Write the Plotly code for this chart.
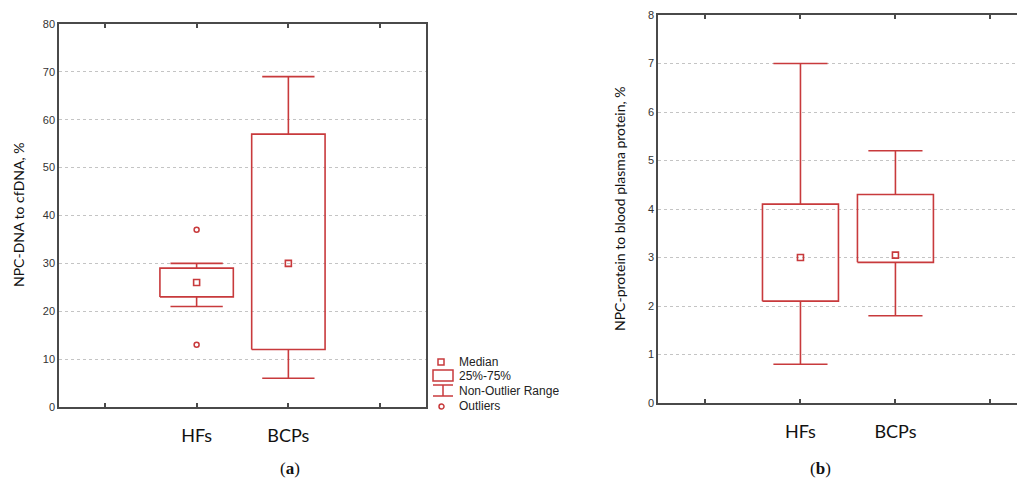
import plotly.graph_objects as go

# ---- data ----
groups = ["HFs", "BCPs"]
group_pos = [1, 2]

# panel (a): NPC-DNA to cfDNA, %
a_low = [21, 6]
a_q1 = [23, 12]
a_median = [26, 30]
a_q3 = [29, 57]
a_high = [30, 69]
a_outlier_x = ["HFs", "HFs"]
a_outlier_y = [37, 13]

# panel (b): NPC-protein to blood plasma protein, %
b_low = [0.8, 1.8]
b_q1 = [2.1, 2.9]
b_median = [3.0, 3.05]
b_q3 = [4.1, 4.3]
b_high = [7.0, 5.2]

RED = "#C83A3C"
AXC = "#4a4a4a"
BOX_HW = 0.4
CAP_HW = 0.285

# page body has an 8px margin: work in reference pixels and shift
OFF = 8
W = 1025 - 2 * OFF
H = 488 - 2 * OFF


def PX(px):
    return (px - OFF) / W


def PY(py):
    return (H - (py - OFF)) / H


fig = go.Figure()


def add_boxes(low, q1, med, q3, high, xa, ya):
    bx, by, wx, wy = [], [], [], []
    for p, lo, a, m, b, hi in zip(group_pos, low, q1, med, q3, high):
        bx += [p - BOX_HW, p + BOX_HW, p + BOX_HW, p - BOX_HW, p - BOX_HW, None]
        by += [a, a, b, b, a, None]
        wx += [p, p, None, p, p, None, p - CAP_HW, p + CAP_HW, None, p - CAP_HW, p + CAP_HW, None]
        wy += [b, hi, None, a, lo, None, hi, hi, None, lo, lo, None]
    fig.add_trace(go.Scatter(x=bx, y=by, mode="lines", line=dict(color=RED, width=1.6),
                             xaxis=xa, yaxis=ya, showlegend=False, hoverinfo="skip"))
    fig.add_trace(go.Scatter(x=wx, y=wy, mode="lines", line=dict(color=RED, width=1.6),
                             xaxis=xa, yaxis=ya, showlegend=False, hoverinfo="skip"))
    fig.add_trace(go.Scatter(x=group_pos, y=med, mode="markers",
                             marker=dict(symbol="square-open", size=6, color=RED, line=dict(width=1.6)),
                             xaxis=xa, yaxis=ya, showlegend=False))


add_boxes(a_low, a_q1, a_median, a_q3, a_high, "x", "y")
add_boxes(b_low, b_q1, b_median, b_q3, b_high, "x2", "y2")

pos_of = dict(zip(groups, group_pos))
fig.add_trace(go.Scatter(x=[pos_of[g] for g in a_outlier_x], y=a_outlier_y, mode="markers",
                         marker=dict(symbol="circle-open", size=5, color=RED, line=dict(width=1.5)),
                         xaxis="x", yaxis="y", showlegend=False))

tickfont = dict(family="Liberation Sans, Arial", size=11, color="#333")
catfont = dict(family="Lato, Open Sans", size=18, color="#111")

xcommon = dict(tickvals=[0, 1, 2, 3], ticktext=["", "HFs", "BCPs", ""], ticks="inside",
               ticklen=4, tickcolor=AXC, tickwidth=1.5, showline=True, linecolor=AXC,
               linewidth=1.5, showgrid=False, zeroline=False, tickfont=catfont,
               ticklabelstandoff=12, automargin=False)
ycommon = dict(showline=True, linecolor=AXC, linewidth=1.5, ticks="", showgrid=True,
               gridcolor="#c4c4c4", griddash="dot", gridwidth=1, zeroline=False,
               tickfont=tickfont, automargin=False)

fig.update_layout(
    width=W, height=H, margin=dict(l=0, r=0, t=0, b=0, autoexpand=False),
    paper_bgcolor="white", plot_bgcolor="white",
    xaxis=dict(domain=[PX(59), PX(426)], range=[-0.5, 3.5], mirror="ticks", **xcommon),
    yaxis=dict(domain=[PY(407), PY(24)], range=[0, 80], dtick=10, mirror=True, **ycommon),
    xaxis2=dict(domain=[PX(658), 1.0], range=[-0.5, 3.28], anchor="y2", mirror="ticks", **xcommon),
    yaxis2=dict(domain=[PY(403), PY(15)], range=[0, 8], dtick=1, anchor="x2", mirror=False,
                **ycommon),
)

titlefont = dict(family="Lato, Open Sans", size=14, color="#111")
fig.add_annotation(text="NPC-DNA to cfDNA, %", x=PX(18), y=PY(215), xref="paper", yref="paper",
                   xanchor="center", yanchor="middle", textangle=-90, showarrow=False, font=titlefont)
fig.add_annotation(text="NPC-protein to blood plasma protein, %", x=PX(619), y=PY(209),
                   xref="paper", yref="paper", xanchor="center", yanchor="middle",
                   textangle=-90, showarrow=False, font=titlefont)

# panel labels (kept inside the figure's bottom edge)
for lab, xp in [("a", 290), ("b", 820)]:
    fig.add_annotation(text=f"(<b>{lab}</b>)", x=PX(xp), y=0, xref="paper", yref="paper",
                       xanchor="center", yanchor="bottom", showarrow=False,
                       font=dict(family="Liberation Serif, DejaVu Serif", size=17, color="#111"))

# legend (Statistica style)
leg_font = dict(family="Liberation Sans, Arial", size=12, color="#222")
leg_items = [("Median", 362), ("25%-75%", 376), ("Non-Outlier Range", 391), ("Outliers", 406)]
for txt, yy in leg_items:
    fig.add_annotation(text=txt, x=PX(457), y=PY(yy), xref="paper", yref="paper",
                       xanchor="left", yanchor="middle", showarrow=False, font=leg_font)

shapes = []
shapes.append(dict(type="rect", xref="paper", yref="paper", x0=PX(438), y0=PY(359), x1=PX(444),
                   y1=PY(365), line=dict(color=RED, width=1.5)))
shapes.append(dict(type="rect", xref="paper", yref="paper", x0=PX(433), y0=PY(370), x1=PX(453),
                   y1=PY(381), line=dict(color=RED, width=1.5)))
for (ax, ay, bx, by) in [(433, 385, 453, 385), (433, 396, 453, 396), (443, 385, 443, 396)]:
    shapes.append(dict(type="line", xref="paper", yref="paper", x0=PX(ax), y0=PY(ay), x1=PX(bx),
                       y1=PY(by), line=dict(color=RED, width=1.5)))
shapes.append(dict(type="circle", xref="paper", yref="paper", x0=PX(439), y0=PY(404), x1=PX(444),
                   y1=PY(409), line=dict(color=RED, width=1.5)))
fig.update_layout(shapes=shapes)

fig.write_html("out.html")
